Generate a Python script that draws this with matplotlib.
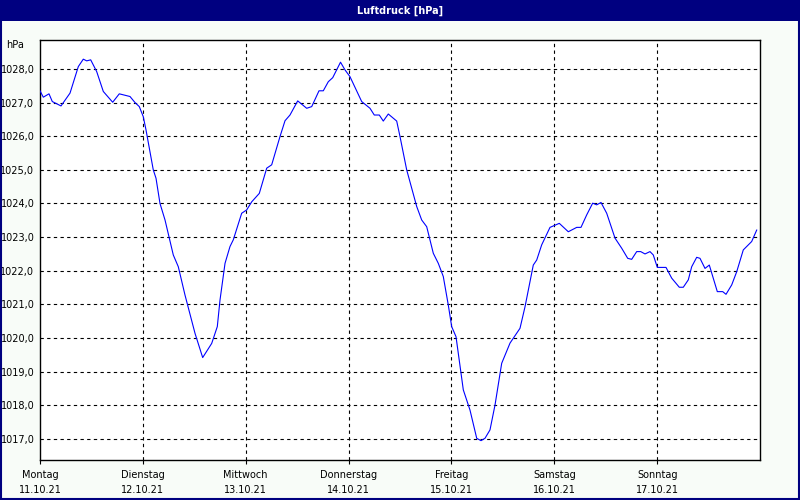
import matplotlib
matplotlib.use("Agg")
import matplotlib.pyplot as plt
from matplotlib.patches import Rectangle

# hours since Monday 11.10.21 00:00
hours = [0, 0.77, 2.1, 2.87, 4.9, 7.0, 8.94, 10.1, 10.9, 11.83, 13.23, 14.77, 16.96, 18.5,
         19.44, 21.0, 22.17, 23.17, 24.1, 24.73, 26.43, 27.07, 28.0, 29.17, 31.1, 32.27,
         33.83, 36.17, 37.96, 40.06, 41.37, 42.0, 43.17, 44.33, 45.1, 47.06, 48.23, 49.4,
         51.17, 52.9, 54.06, 56.0, 57.17, 58.33, 60.13, 62.23, 63.4, 65.1, 66.1, 67.27,
         68.3, 70.12, 71.17, 72.33, 75.06, 77.0, 78.0, 79.17, 80.1, 81.27, 83.23, 84.0,
         85.56, 87.9, 89.06, 90.23, 91.77, 92.94, 94.1, 95.27, 96.06, 97.07, 98.77, 100.33,
         101.9, 102.9, 103.83, 105.0, 106.17, 107.73, 109.67, 112.0, 113.17, 115.1, 115.9,
         117.06, 119.0, 121.17, 123.27, 125.23, 126.23, 127.56, 128.96, 129.9, 130.9,
         132.23, 134.17, 135.73, 137.13, 138.06, 139.23, 140.16, 141.17, 142.33, 143.1,
         144.04, 146.07, 147.4, 149.17, 150.1, 151.27, 152.06, 153.23, 154.0, 155.17,
         156.17, 158.04, 159.3, 160.07, 161.4, 162.56, 164.1, 166.06, 167.23]
pressure = [1027.35, 1027.16, 1027.26, 1027.03, 1026.90, 1027.28, 1028.07, 1028.29, 1028.24,
            1028.27, 1027.92, 1027.33, 1027.01, 1027.26, 1027.23, 1027.18, 1027.00, 1026.88,
            1026.58, 1026.19, 1025.00, 1024.75, 1024.00, 1023.51, 1022.47, 1022.12, 1021.28,
            1020.14, 1019.42, 1019.84, 1020.34, 1021.13, 1022.22, 1022.72, 1022.92, 1023.71,
            1023.81, 1024.05, 1024.30, 1025.05, 1025.15, 1025.99, 1026.46, 1026.63, 1027.05,
            1026.83, 1026.88, 1027.35, 1027.35, 1027.62, 1027.74, 1028.20, 1027.97, 1027.77,
            1027.03, 1026.83, 1026.63, 1026.63, 1026.45, 1026.66, 1026.45, 1025.99, 1025.00,
            1023.91, 1023.51, 1023.31, 1022.52, 1022.22, 1021.83, 1020.98, 1020.34, 1020.04,
            1018.46, 1017.86, 1017.02, 1016.95, 1017.02, 1017.27, 1018.01, 1019.25, 1019.85,
            1020.29, 1020.93, 1022.17, 1022.32, 1022.77, 1023.29, 1023.41, 1023.16, 1023.29,
            1023.29, 1023.66, 1024.01, 1023.96, 1024.03, 1023.71, 1022.97, 1022.67, 1022.37,
            1022.34, 1022.57, 1022.57, 1022.50, 1022.57, 1022.47, 1022.10, 1022.10, 1021.78,
            1021.51, 1021.51, 1021.73, 1022.12, 1022.40, 1022.37, 1022.07, 1022.17, 1021.38,
            1021.38, 1021.30, 1021.58, 1021.97, 1022.62, 1022.87, 1023.21]

day_names = ["Montag", "Dienstag", "Mittwoch", "Donnerstag", "Freitag", "Samstag", "Sonntag"]
day_dates = ["11.10.21", "12.10.21", "13.10.21", "14.10.21", "15.10.21", "16.10.21", "17.10.21"]
y_ticks = list(range(1017, 1029))

bg = "#f8fcf8"
navy = "#000080"

fig = plt.figure(figsize=(8, 5), dpi=100, facecolor=bg)
# title bar and border
fig.patches.append(Rectangle((0, 0.958), 1, 0.042, transform=fig.transFigure,
                             facecolor=navy, edgecolor="none", zorder=0))
fig.patches.append(Rectangle((0.001, 0.002), 0.998, 0.996, transform=fig.transFigure,
                             facecolor="none", edgecolor=navy, linewidth=1.5, zorder=1))
fig.text(0.5, 0.979, "Luftdruck [hPa]", color="white", fontsize=7, fontweight="bold",
         ha="center", va="center")

ax = fig.add_axes([0.05, 0.08, 0.9, 0.84])
ax.set_facecolor("white")
ax.plot(hours, pressure, color="#0000ff", linewidth=0.8, zorder=3)

ax.set_xlim(0, 168)
ax.set_ylim(1016.375, 1028.86)

ax.set_yticks(y_ticks)
ax.set_yticklabels([f"{v:.1f}".replace(".", ",") for v in y_ticks], fontsize=7)
ax.tick_params(axis="y", length=0, pad=4)

xt = [24 * i for i in range(len(day_names))]
ax.set_xticks(xt)
ax.set_xticklabels([f"{n}\n{d}" for n, d in zip(day_names, day_dates)], fontsize=7,
                   linespacing=1.7)
ax.tick_params(axis="x", length=3, width=0.8, pad=4, direction="out")

for v in y_ticks:
    ax.axhline(v, color="black", linewidth=0.8, linestyle=(0, (3, 3)), zorder=1)
for v in xt[1:]:
    ax.axvline(v, color="black", linewidth=0.8, linestyle=(0, (3, 3)), zorder=1)

for s in ax.spines.values():
    s.set_color("black")
    s.set_linewidth(1.0)

fig.text(0.03, 0.91, "hPa", fontsize=7, ha="right", va="center")

fig.savefig("out.png", dpi=100, facecolor=bg)
